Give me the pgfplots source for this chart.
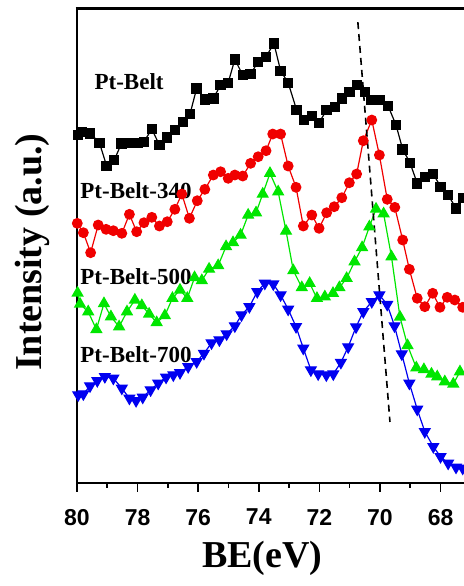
\documentclass[border=0pt]{standalone}
\usepackage{fontspec}
\setmainfont{Liberation Serif}
\setsansfont{Liberation Sans}
\usepackage{pgfplots}
\pgfplotsset{compat=1.18}

\definecolor{ptred}{RGB}{240,0,0}
\definecolor{ptgreen}{RGB}{0,230,0}
\definecolor{ptblue}{RGB}{0,0,240}

\begin{document}
\begin{tikzpicture}
\begin{axis}[
    scale only axis,
    width=193.5pt, height=237.5pt,
    x dir=reverse,
    xmin=67.23, xmax=80,
    ymin=0, ymax=475,
    axis x line*=bottom, axis y line*=left,
    axis line style={line width=1pt},
    xtick={68,70,...,80},
    minor xtick={67,69,...,79},
    tick align=outside,
    major tick length=4.5pt, minor tick length=2.3pt,
    every tick/.style={black, line width=0.8pt},
    ytick=\empty,
    /pgf/number format/assume math mode=true,
    tick label style={font=\sffamily\bfseries\fontsize{11.5}{13}\selectfont},
    xticklabel style={yshift=-5pt},
    xlabel={BE(eV)},
    ylabel={Intensity (a.u.)},
    every axis x label/.style={at={(axis description cs:0.479,-0.158)}, anchor=center,
        font=\bfseries\fontsize{19}{22}\selectfont},
    every axis y label/.style={at={(axis description cs:-0.116,0.486)}, anchor=center, rotate=90,
        font=\bfseries\fontsize{19}{22}\selectfont},
    extra description/.code={
        \draw[black, line width=1.5pt] (-0.003,1) -- (1,1);
    },
]
% Pt-Belt
\addplot[black, line width=0.6pt, mark=square*, mark size=2.3pt] coordinates {
(79.97,348) (79.85,351.3) (79.57,349.7) (79.26,340.3) (79.02,317) (78.77,323)
(78.53,339.7) (78.25,340.3) (77.98,340.3) (77.79,341.3) (77.53,354) (77.28,338)
(77.02,345.7) (76.77,353) (76.51,361.3) (76.27,369) (76.05,394.7) (75.78,383.7)
(75.50,384.7) (75.26,398) (75.01,400.3) (74.79,423.7) (74.53,408) (74.27,409)
(74.02,421.3) (73.76,426.3) (73.50,439.7) (73.28,412.3) (73.03,400.3) (72.75,373)
(72.51,363) (72.25,367) (72.01,360.3) (71.76,373) (71.49,376.3) (71.26,384.7)
(71.01,391.3) (70.75,398) (70.50,391.3) (70.28,383) (70.00,383) (69.73,377)
(69.47,358) (69.25,333.7) (69.01,320.3) (68.77,299.7) (68.52,306.3) (68.24,309)
(68.00,296.3) (67.75,288) (67.49,274.7) (67.26,285)
};
% Pt-Belt-340
\addplot[ptred, line width=0.6pt, mark=*, mark size=2.4pt] coordinates {
(79.99,259.7) (79.79,250.3) (79.55,230.3) (79.30,258) (79.04,253.7) (78.80,252.3)
(78.52,249.7) (78.27,268.7) (78.03,251.3) (77.79,260.3) (77.53,265.7) (77.28,257)
(77.02,261.3) (76.77,273.7) (76.54,289) (76.29,264.7) (76.03,282.3) (75.78,293.7)
(75.50,308) (75.26,311.3) (75.01,304.7) (74.79,308) (74.53,307) (74.27,319.7)
(74.02,326.3) (73.76,332.3) (73.54,349) (73.28,349) (73.03,317) (72.77,295.7)
(72.53,257) (72.25,268) (72.01,254.7) (71.76,270.3) (71.51,276.3) (71.26,285.3)
(71.01,300.3) (70.77,309) (70.55,342.3) (70.27,363) (70.02,328) (69.76,283.7)
(69.51,275.7) (69.25,243) (69.03,213.7) (68.77,184.7) (68.52,176.3) (68.26,189.7)
(68.02,175.7) (67.78,185.7) (67.53,183) (67.27,175.7)
};
% Pt-Belt-500
\addplot[ptgreen, line width=0.6pt, mark=triangle*, mark size=3pt] coordinates {
(79.98,190) (79.90,179) (79.63,171.3) (79.36,153.5) (79.11,179.5) (78.88,166.3)
(78.61,156.3) (78.35,171.3) (78.09,183) (77.86,177.5) (77.62,169) (77.37,160.5)
(77.10,167.5) (76.85,184.7) (76.60,193) (76.36,184.7) (76.12,205.5) (75.88,202.5)
(75.64,214) (75.34,217.5) (75.08,236.5) (74.85,240.5) (74.60,248) (74.35,268)
(74.09,270.3) (73.87,289) (73.63,309.7) (73.36,291.3) (73.10,252) (72.86,212.5)
(72.58,195.5) (72.32,199.7) (72.08,184.7) (71.82,186.3) (71.55,189.7) (71.34,195.5)
(71.10,204.7) (70.84,221.3) (70.59,235.5) (70.35,256.3) (70.13,274) (69.88,269.3)
(69.62,226.3) (69.34,166) (69.09,137.5) (68.80,115.2) (68.55,113.5) (68.30,109)
(68.11,106.3) (67.86,101.3) (67.58,99) (67.36,111.3)
};
% Pt-Belt-700
\addplot[ptblue, line width=0.6pt, mark=triangle*, mark size=3pt,
    mark options={rotate=180}] coordinates {
(79.96,88) (79.79,89) (79.57,97) (79.33,102.3) (79.08,106.3) (78.80,104.7)
(78.52,94.7) (78.27,84.7) (78.05,82.3) (77.83,85.7) (77.57,93) (77.32,99.7)
(77.06,105.7) (76.82,108) (76.60,110.3) (76.33,116.3) (76.05,121.3) (75.81,129.5)
(75.56,140) (75.30,143) (75.06,149) (74.79,157) (74.57,168) (74.31,176.3)
(74.05,191.3) (73.80,199.7) (73.52,199) (73.28,188) (73.03,173.7) (72.77,156.3)
(72.53,134.7) (72.28,113) (72.04,109) (71.77,108) (71.54,109) (71.29,120.5)
(71.05,136) (70.79,156) (70.55,171.3) (70.27,181.3) (70.02,188) (69.76,178.5)
(69.52,157) (69.28,129) (69.03,99.7) (68.77,73.7) (68.52,51.3) (68.24,36.3)
(68.00,26.3) (67.75,19.7) (67.49,15.7) (67.27,14.7)
};
% guide line
\addplot[black, line width=0.8pt, dash pattern=on 3.5pt off 2.5pt] coordinates {(70.73,461) (69.67,61)};

\node[font=\bfseries\fontsize{11.5}{13}\selectfont, anchor=center] at (axis cs:78.28,401) {Pt-Belt};
\node[font=\bfseries\fontsize{11.5}{13}\selectfont, anchor=west, inner sep=0pt] at (axis cs:79.9,292) {Pt-Belt-340};
\node[font=\bfseries\fontsize{11.5}{13}\selectfont, anchor=west, inner sep=0pt] at (axis cs:79.9,206) {Pt-Belt-500};
\node[font=\bfseries\fontsize{11.5}{13}\selectfont, anchor=west, inner sep=0pt] at (axis cs:79.9,128) {Pt-Belt-700};

\coordinate (tl) at (axis description cs:-0.003,1);
\coordinate (tr) at (axis description cs:1,1);
\coordinate (bbl) at (axis description cs:-0.199,-0.217);
\coordinate (btr) at (axis description cs:1,1.017);
\end{axis}
\draw[white, line width=0.2pt] (bbl) rectangle (btr);
\pgfresetboundingbox
\useasboundingbox (bbl) rectangle (btr);
\draw[black, line width=1.5pt] (tl) -- (tr);
\end{tikzpicture}
\end{document}
